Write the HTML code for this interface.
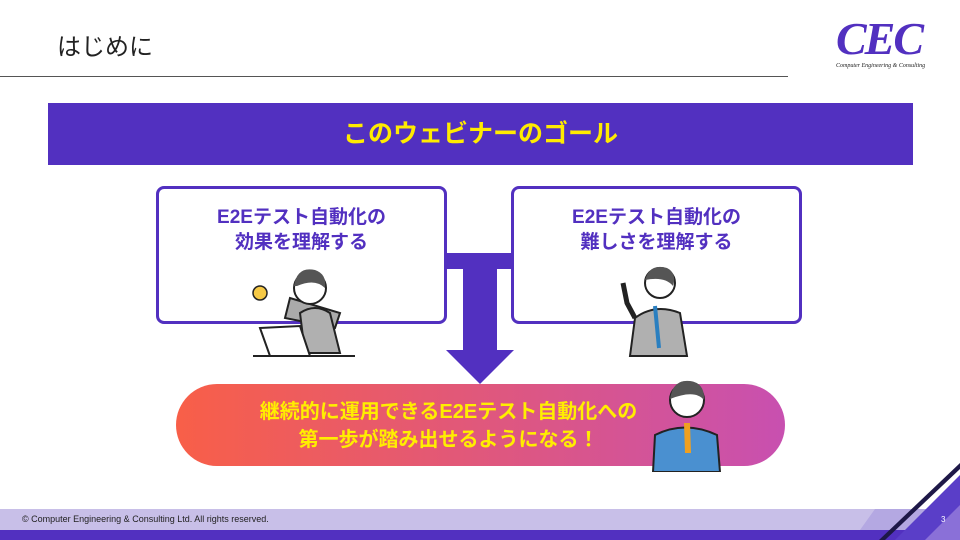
<!DOCTYPE html><html><head><meta charset="utf-8"><style>
*{margin:0;padding:0;box-sizing:border-box}
body{width:960px;height:540px;position:relative;overflow:hidden;background:#fff;font-family:"Liberation Sans","Noto Sans CJK JP",sans-serif}
.a{position:absolute}
.box{position:absolute;border:3px solid #5230c0;border-radius:8px;background:#fff;color:#5230c0;font-weight:bold;font-size:19px;text-align:center;line-height:25px;padding-top:16px}
</style></head><body>
<div class="a" style="left:57px;top:27px;font-size:24px;color:#222">はじめに</div>
<div class="a" style="left:0;top:76px;width:788px;height:1px;background:#555"></div>
<div class="a" style="left:836px;top:14px;font-family:'Liberation Serif',serif;font-style:italic;font-weight:bold;font-size:46px;color:#5230c0;line-height:50px;letter-spacing:-2px">CEC</div>
<div class="a" style="left:836px;top:63px;font-family:'Liberation Serif',serif;font-style:italic;font-size:6px;color:#222">Computer Engineering &amp; Consulting</div>
<div class="a" style="left:48px;top:103px;width:865px;height:62px;background:#5230c0;color:#ffeb00;font-weight:bold;font-size:25px;text-align:center;line-height:62px">このウェビナーのゴール</div>
<div class="a" style="left:446px;top:253px;width:67px;height:16px;background:#5230c0"></div>
<div class="a" style="left:463px;top:265px;width:34px;height:87px;background:#5230c0"></div>
<svg class="a" style="left:446px;top:350px" width="68" height="34"><polygon points="0,0 68,0 34,34" fill="#5230c0"/></svg>
<div class="box" style="left:156px;top:186px;width:291px;height:138px">E2Eテスト自動化の<br>効果を理解する</div>
<div class="box" style="left:511px;top:186px;width:291px;height:138px">E2Eテスト自動化の<br>難しさを理解する</div>
<svg class="a" style="left:245px;top:258px" width="110" height="100">
<circle cx="15" cy="35" r="7" fill="#f6c945" stroke="#222" stroke-width="1.5"/>
<path d="M45,40 L40,60 L90,70 L95,55 Z" fill="#aaa" stroke="#222" stroke-width="2"/>
<path d="M55,55 Q70,45 85,55 L95,95 L60,95 Z" fill="#b0b0b0" stroke="#222" stroke-width="2"/>
<circle cx="65" cy="30" r="16" fill="#fff" stroke="#222" stroke-width="2"/>
<path d="M49,28 Q52,8 70,12 Q82,16 80,30 Q70,20 52,28Z" fill="#555"/>
<path d="M15,70 L55,68 L65,98 L25,98 Z" fill="#fff" stroke="#222" stroke-width="2"/>
<line x1="8" y1="98" x2="110" y2="98" stroke="#222" stroke-width="2"/>
</svg>
<svg class="a" style="left:615px;top:258px" width="80" height="100">
<path d="M20,60 Q40,45 65,55 L72,98 L15,98 Z" fill="#b0b0b0" stroke="#222" stroke-width="2"/>
<circle cx="45" cy="25" r="15" fill="#fff" stroke="#222" stroke-width="2"/>
<path d="M30,22 Q35,5 52,10 Q62,15 58,28 Q50,18 30,22Z" fill="#555"/>
<path d="M8,25 L12,45 L20,60" fill="none" stroke="#222" stroke-width="5"/>
<path d="M40,48 L44,90" stroke="#2a7fc0" stroke-width="4"/>
</svg>
<div class="a" style="left:176px;top:384px;width:609px;height:82px;border-radius:41px;background:linear-gradient(90deg,#f85f48,#c850b0);color:#ffee00;font-weight:bold;font-size:20px;text-align:center;line-height:28px;padding-top:14px;padding-right:64px">継続的に運用できるE2Eテスト自動化への<br>第一歩が踏み出せるようになる！</div>
<svg class="a" style="left:645px;top:375px" width="80" height="97">
<path d="M10,60 Q40,45 72,60 L75,97 L8,97 Z" fill="#4a90d0" stroke="#222" stroke-width="2"/>
<circle cx="42" cy="25" r="17" fill="#fff" stroke="#222" stroke-width="2"/>
<path d="M25,24 Q28,4 45,6 Q60,8 59,25 Q50,14 25,24Z" fill="#555"/>
<path d="M39,48 L45,48 L46,78 L40,78Z" fill="#f0a020"/>
</svg>
<div class="a" style="left:0;top:509px;width:960px;height:21px;background:#c8bfe8"></div>
<div class="a" style="left:0;top:530px;width:960px;height:10px;background:#5230c0"></div>
<svg class="a" style="left:800px;top:460px" width="160" height="80">
<polygon points="75,49 160,49 160,70 60,70" fill="#b4a8e2"/>
<polygon points="160,3 160,9 85,80 79,80" fill="#1e1848"/>
<polygon points="160,15 160,80 95,80" fill="#5a3ec8"/>
<polygon points="160,45 160,80 125,80" fill="#8a70d8"/>
</svg>
<div class="a" style="left:22px;top:514px;font-size:9px;color:#222">© Computer Engineering &amp; Consulting Ltd. All rights reserved.</div>
<div class="a" style="left:941px;top:515px;font-size:8px;color:#fff">3</div>
</body></html>
